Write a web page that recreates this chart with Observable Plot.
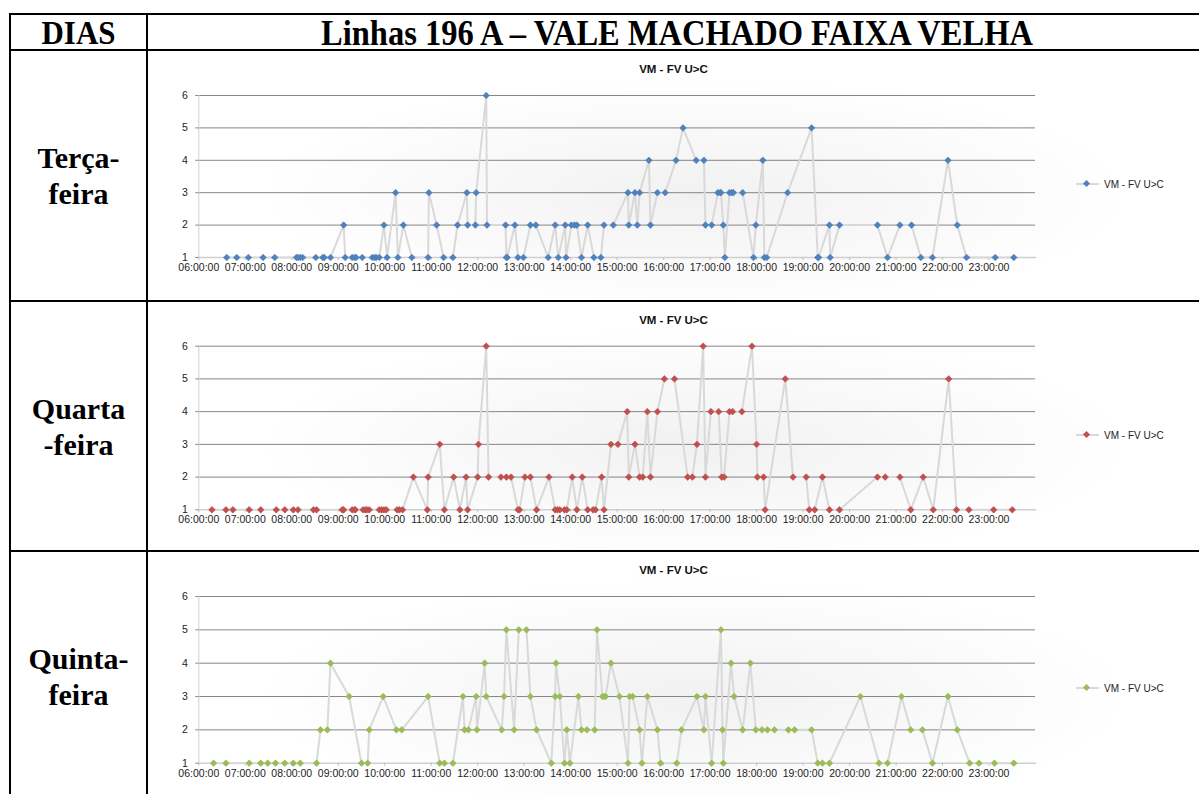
<!DOCTYPE html>
<html><head><meta charset="utf-8">
<script src="https://cdn.jsdelivr.net/npm/d3@7"></script>
<script src="https://cdn.jsdelivr.net/npm/@observablehq/plot@0.6"></script>
<style>
body{margin:0;background:#fff;width:1199px;height:794px;overflow:hidden;position:relative;font-family:"Liberation Sans",Arial,sans-serif}
.hl{position:absolute;background:#000;height:2px}
.vl{position:absolute;background:#000;width:2px}
.serif{position:absolute;font-family:"Liberation Serif","Times New Roman",serif;font-weight:bold;text-align:center;color:#000}
.cell{position:absolute;left:148px;width:1051px;height:249px}
.glow{position:absolute;inset:0;background:radial-gradient(ellipse 42% 48% at 52% 58%, rgba(0,0,0,0.055), rgba(0,0,0,0) 100%)}
.ctitle{position:absolute;left:0;width:1051px;text-align:center;font-weight:bold;font-size:11.5px;color:#111}
.legend{position:absolute;left:928px;height:14px;display:flex;align-items:center;font-size:10px;color:#222}
.sw{position:relative;width:23px;height:2px;background:#d9d9d9;margin-right:5px}
.sw i{position:absolute;left:8px;top:-2.5px;width:5px;height:5px;transform:rotate(45deg)}
.cell svg{position:absolute;left:0;top:0}
</style></head><body>
<script>
// ---- data ----
const headerLeft = "DIAS";
const headerTitle = "Linhas 196 A – VALE MACHADO FAIXA VELHA";
const dayLabels = [["Terça-","feira"],["Quarta","-feira"],["Quinta-","feira"]];
const seriesName = "VM - FV U>C";
const seriesColors = ["#4f81bd","#c0504d","#9bbb59"];
const hourTicks = [6,7,8,9,10,11,12,13,14,15,16,17,18,19,20,21,22,23];
const valueTicks = [1,2,3,4,5,6];

const terca = [["06:36",1],["06:49",1],["07:04",1],["07:23",1],["07:38",1],["08:06",1],["08:08",1],["08:11",1],["08:14",1],["08:31",1],["08:40",1],["08:42",1],["08:50",1],
["09:07",2],["09:09",1],["09:18",1],["09:21",1],["09:23",1],["09:31",1],["09:44",1],["09:47",1],["09:49",1],["09:53",1],["09:59",2],["10:03",1],["10:14",3],["10:17",1],["10:24",2],["10:35",1],["10:56",1],["10:57",3],
["11:07",2],["11:16",1],["11:28",1],["11:34",2],["11:46",3],["11:47",2],["11:57",2],["11:58",3],["12:11",6],["12:12",2],["12:36",2],["12:37",1],["12:38",1],["12:48",2],["12:52",1],["12:59",1],
["13:08",2],["13:15",2],["13:31",1],["13:40",2],["13:44",1],["13:53",2],["13:54",1],["14:01",2],["14:05",2],["14:08",2],["14:14",1],["14:22",2],["14:30",1],["14:39",1],["14:43",2],["14:55",2],
["15:14",3],["15:15",2],["15:23",3],["15:26",2],["15:29",3],["15:41",4],["15:43",2],["15:52",3],["16:02",3],["16:16",4],["16:25",5],["16:42",4],["16:52",4],["16:54",2],
["17:02",2],["17:10",3],["17:13",3],["17:14",3],["17:17",2],["17:19",1],["17:25",3],["17:28",3],["17:30",3],["17:42",3],["17:56",1],["17:59",2],["18:08",4],["18:10",1],["18:13",1],["18:40",3],
["19:11",5],["19:19",1],["19:20",1],["19:34",2],["19:35",1],["19:47",2],["20:36",2],["20:49",1],["21:05",2],["21:20",2],["21:32",1],["21:47",1],["22:07",4],["22:19",2],["22:31",1],["23:08",1],["23:32",1]];

const quarta = [["06:17",1],["06:35",1],["06:44",1],["07:05",1],["07:20",1],["07:40",1],["07:51",1],["08:02",1],["08:08",1],["08:28",1],["08:32",1],
["09:05",1],["09:07",1],["09:18",1],["09:21",1],["09:22",1],["09:32",1],["09:35",1],["09:37",1],["09:40",1],["09:53",1],["09:56",1],["09:59",1],["10:02",1],["10:16",1],["10:19",1],["10:23",1],["10:37",2],["10:55",1],["10:56",2],
["11:11",3],["11:17",1],["11:29",2],["11:37",1],["11:45",2],["11:47",1],["12:00",2],["12:01",3],["12:11",6],["12:14",2],["12:30",2],["12:37",2],["12:43",2],["12:52",1],["12:54",1],
["13:01",2],["13:08",2],["13:16",1],["13:32",2],["13:40",1],["13:43",1],["13:46",1],["13:52",1],["13:55",1],["14:02",2],["14:08",1],["14:15",2],["14:22",1],["14:29",1],["14:32",1],["14:40",2],["14:43",1],["14:52",3],
["15:01",3],["15:13",4],["15:15",2],["15:23",3],["15:29",2],["15:33",2],["15:39",4],["15:43",2],["15:52",4],["16:01",5],["16:14",5],["16:31",2],["16:37",2],["16:43",3],["16:51",6],["16:54",2],
["17:01",4],["17:11",4],["17:15",2],["17:18",2],["17:25",4],["17:29",4],["17:41",4],["17:54",6],["18:00",3],["18:01",2],["18:09",2],["18:11",1],["18:37",5],["18:47",2],
["19:04",2],["19:08",1],["19:15",1],["19:25",2],["19:34",1],["19:47",1],["20:36",2],["20:46",2],["21:05",2],["21:19",1],["21:35",2],["21:48",1],["22:08",5],["22:18",1],["22:34",1],["23:06",1],["23:30",1]];

const quinta = [["06:19",1],["06:35",1],["07:05",1],["07:20",1],["07:29",1],["07:39",1],["07:51",1],["08:02",1],["08:11",1],["08:32",1],["08:37",2],["08:46",2],["08:50",4],
["09:14",3],["09:30",1],["09:38",1],["09:40",2],["09:58",3],["10:15",2],["10:22",2],["10:56",3],["11:11",1],["11:17",1],["11:28",1],["11:41",3],["11:43",2],["11:48",2],["11:58",3],["11:59",2],
["12:09",4],["12:11",3],["12:31",2],["12:34",3],["12:37",5],["12:47",2],["12:53",5],["13:03",5],["13:08",3],["13:16",2],["13:35",1],["13:40",3],["13:41",4],["13:46",3],["13:52",1],["13:55",2],["13:59",1],
["14:10",3],["14:14",2],["14:21",2],["14:31",2],["14:34",5],["14:41",3],["14:44",3],["14:45",3],["14:52",4],["15:03",3],["15:14",1],["15:16",3],["15:20",3],["15:29",2],["15:32",1],["15:39",3],["15:52",2],["15:56",1],
["16:17",1],["16:23",2],["16:43",3],["16:52",2],["16:54",3],["17:02",1],["17:14",5],["17:16",2],["17:17",1],["17:27",4],["17:31",3],["17:42",2],["17:52",4],["17:59",2],
["18:07",2],["18:14",2],["18:23",2],["18:41",2],["18:49",2],["19:11",2],["19:19",1],["19:25",1],["19:34",1],["20:14",3],["20:38",1],["20:49",1],
["21:07",3],["21:19",2],["21:34",2],["21:47",1],["22:07",3],["22:19",2],["22:35",1],["22:47",1],["23:07",1],["23:32",1]];

const days = [terca, quarta, quinta];

// ---- layout ----
const rowTops = [51, 302, 552];
const plotMargins = [
  {marginTop:44, marginBottom:43},
  {marginTop:43.7, marginBottom:41.7},
  {marginTop:44, marginBottom:38.3}
];
const toHours = s => +s.slice(0,2) + (+s.slice(3))/60;
const fmtHour = h => String(h).padStart(2,"0") + ":00:00";

function add(tag, cls, css, html){
  const e = document.createElement(tag);
  if (cls) e.className = cls;
  Object.assign(e.style, css||{});
  if (html !== undefined) e.textContent = html;
  document.body.appendChild(e);
  return e;
}

// table lines
add("div","hl",{left:"9px",top:"13px",width:"1190px"});
add("div","hl",{left:"9px",top:"49px",width:"1190px"});
add("div","hl",{left:"9px",top:"300px",width:"1190px"});
add("div","hl",{left:"9px",top:"550px",width:"1190px"});
add("div","vl",{left:"9px",top:"13px",height:"781px"});
add("div","vl",{left:"146px",top:"13px",height:"781px"});

// header text
add("div","serif",{left:"11px",width:"135px",top:"16px",lineHeight:"34px",fontSize:"31px",transform:"scaleY(1.12)"},headerLeft);
add("div","serif",{left:"148px",width:"1058px",top:"16px",lineHeight:"34px",fontSize:"32.5px",transform:"scaleY(1.1)"},headerTitle);

days.forEach((rows, i) => {
  const T = rowTops[i];
  const color = seriesColors[i];
  // day label
  const lab = add("div","serif",{left:"11px",width:"135px",top:T+"px",height:"249px",display:"flex",flexDirection:"column",justifyContent:"center",fontSize:"30px",lineHeight:"36px"});
  dayLabels[i].forEach(t => { const d = document.createElement("div"); d.textContent = t; lab.appendChild(d); });

  const cell = add("div","cell",{top:T+"px"});
  const glow = document.createElement("div"); glow.className = "glow"; cell.appendChild(glow);

  const data = rows.map(([t,v]) => ({h: toHours(t), v}));
  const chart = Plot.plot({
    width: 1051, height: 249,
    marginLeft: 50.3, marginRight: 164,
    ...plotMargins[i],
    style: {background:"transparent", fontFamily:"'Liberation Sans', Arial, sans-serif", fontSize:"10.5px", color:"#222", overflow:"visible"},
    x: {domain:[6,24]},
    y: {domain:[1,6]},
    marks: [
      Plot.gridY(valueTicks.slice(1), {stroke:"#868686", strokeOpacity:1, strokeWidth:1}),
      Plot.frame({anchor:"left", stroke:"#d0d0d0"}),
      Plot.frame({anchor:"bottom", stroke:"#d0d0d0", strokeWidth:1.5}),
      Plot.axisY({ticks: valueTicks, tickFormat: d => String(d), tickSize:3, tickPadding:8, stroke:"#868686", label:null}),
      Plot.axisX({ticks: hourTicks, tickFormat: fmtHour, tickSize:3, tickPadding:3, stroke:"#bfbfbf", label:null}),
      Plot.line(data, {x:"h", y:"v", stroke:"#d9d9d9", strokeWidth:2}),
      Plot.dot(data, {x:"h", y:"v", symbol:"diamond2", r:3, fill:color, stroke:color, strokeWidth:0.6})
    ]
  });
  cell.appendChild(chart);

  const title = document.createElement("div");
  title.className = "ctitle"; title.style.top = "12px"; title.textContent = seriesName;
  cell.appendChild(title);

  const leg = document.createElement("div");
  leg.className = "legend"; leg.style.top = (i===2 ? 129 : 126) + "px";
  const sw = document.createElement("span"); sw.className = "sw";
  const dm = document.createElement("i"); dm.style.background = color; sw.appendChild(dm);
  const tx = document.createElement("span"); tx.textContent = seriesName;
  leg.appendChild(sw); leg.appendChild(tx);
  cell.appendChild(leg);
});
</script>
</body></html>
